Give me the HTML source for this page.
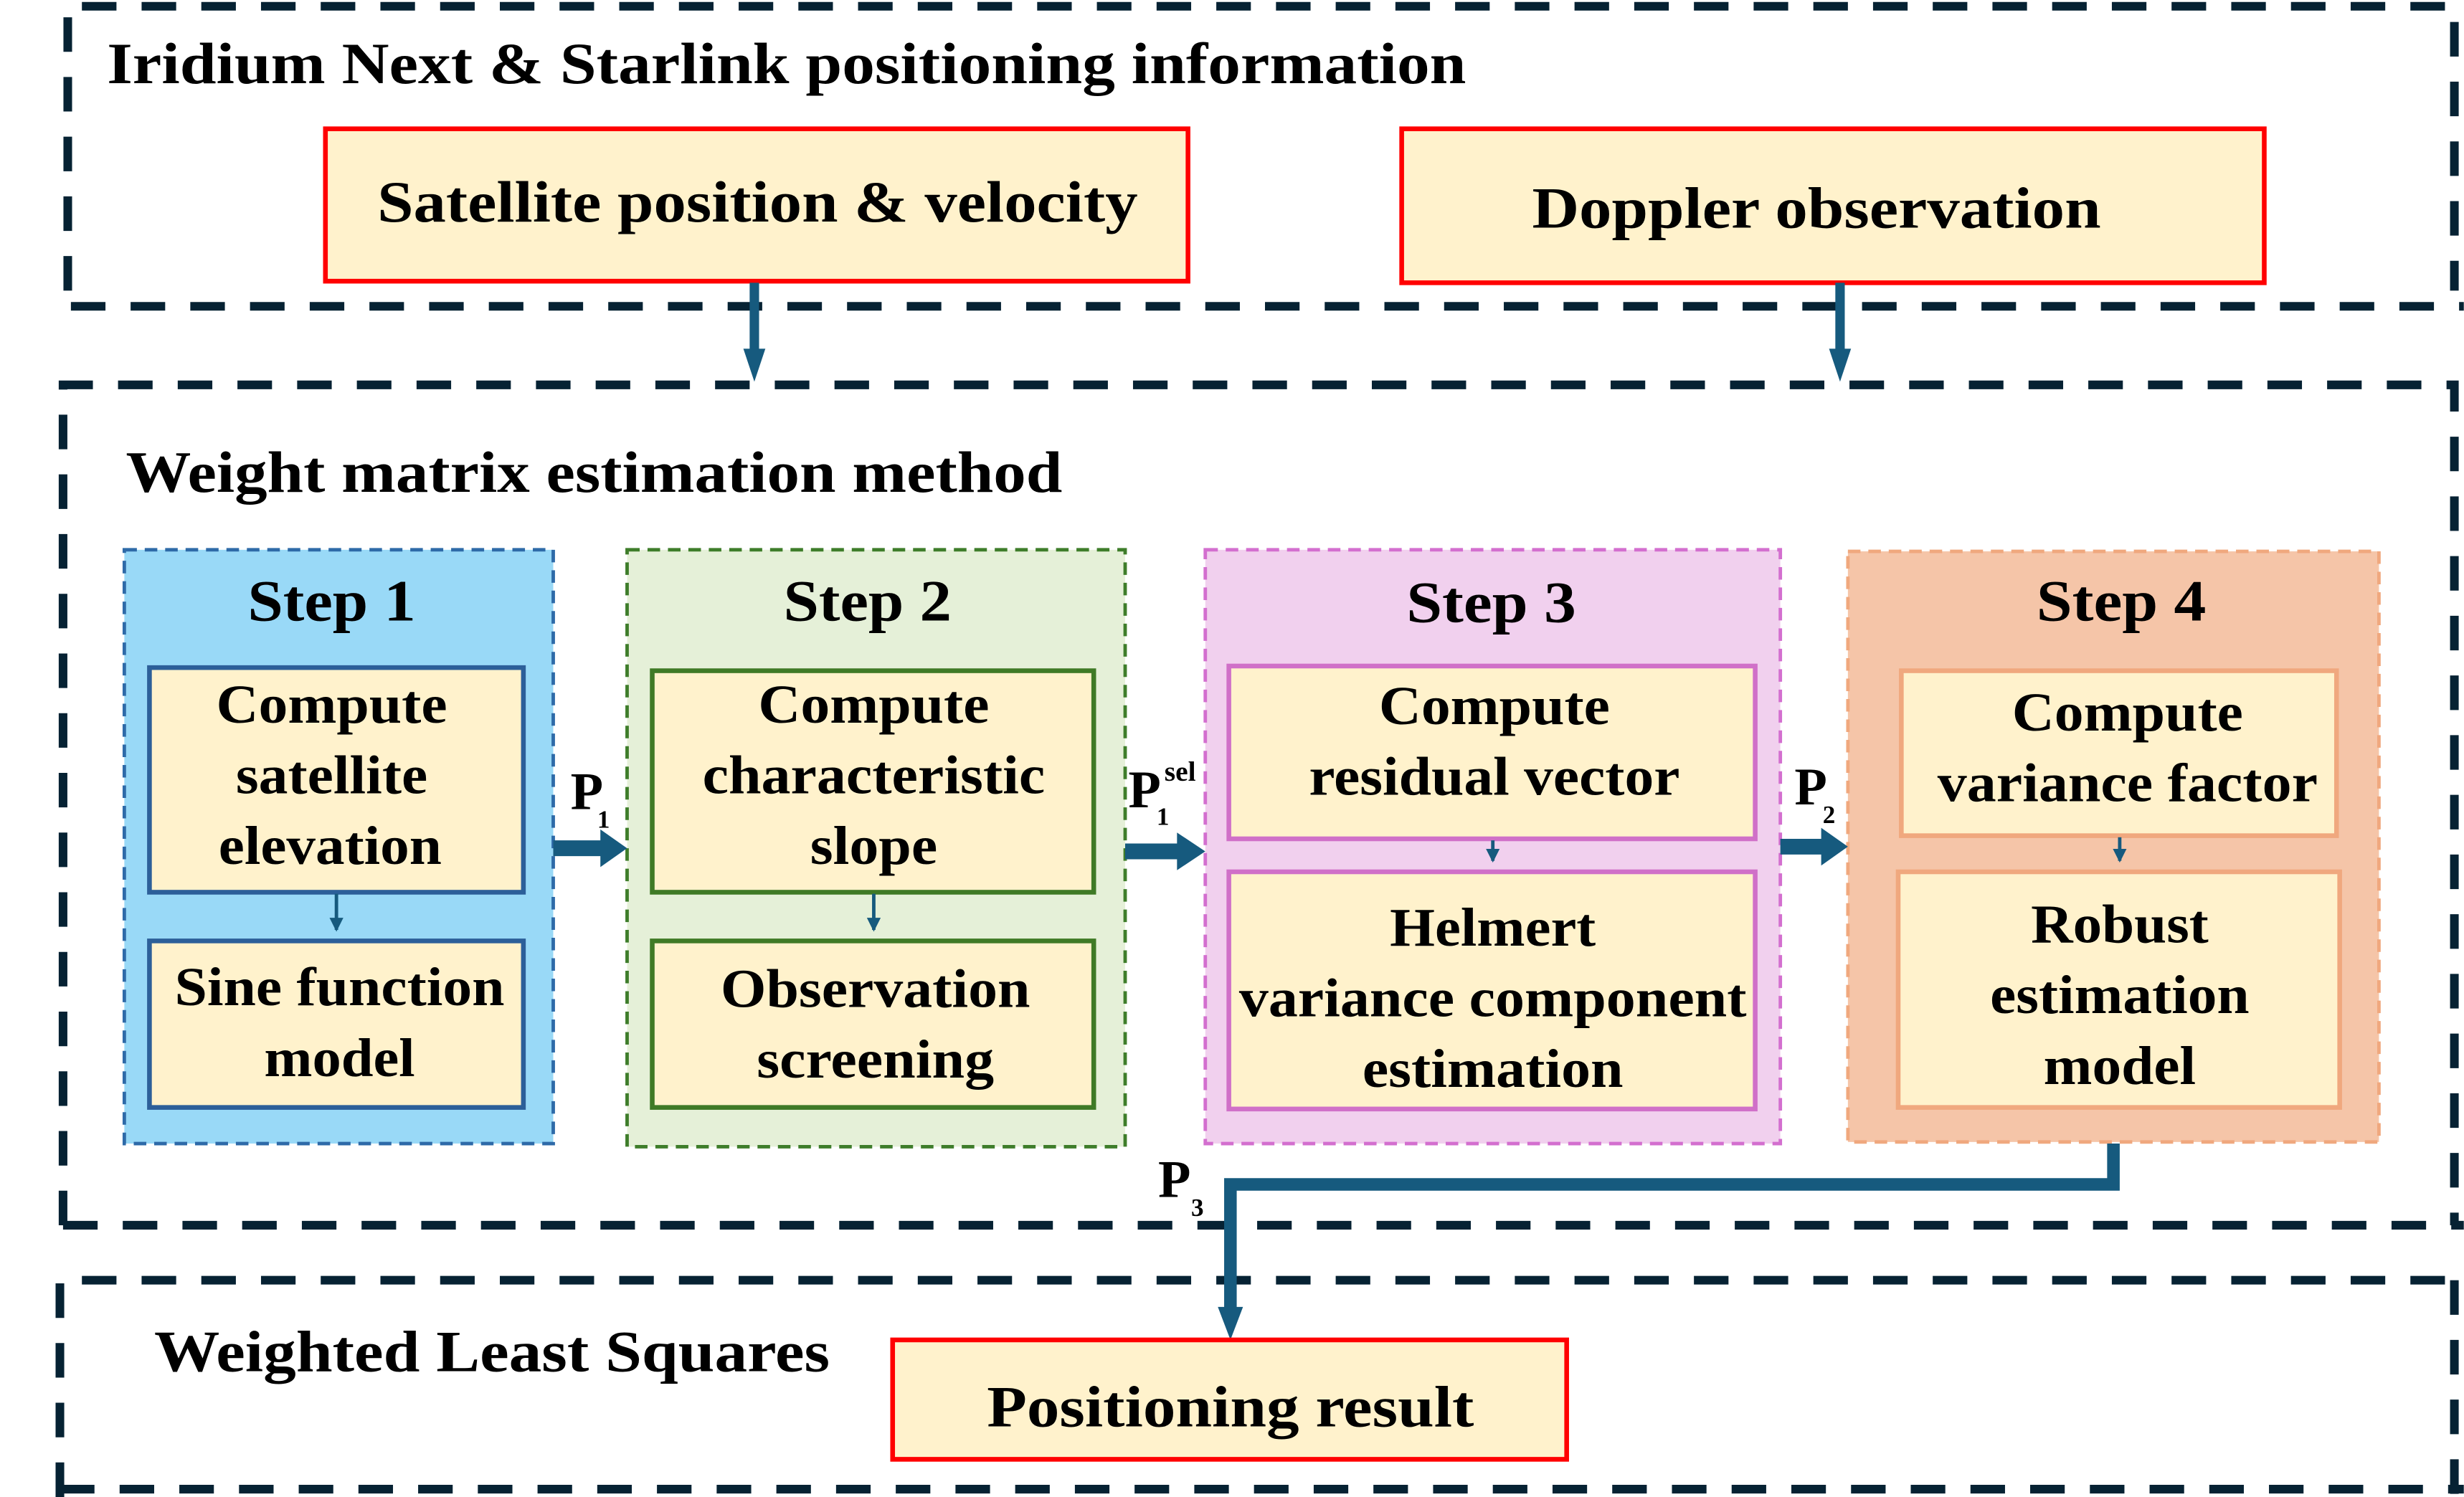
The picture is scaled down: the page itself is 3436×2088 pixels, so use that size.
<!DOCTYPE html>
<html><head><meta charset="utf-8">
<style>
html,body{margin:0;padding:0;background:#fff;}
svg{display:block;}
text{font-family:"Liberation Serif",serif;font-weight:bold;fill:#000;}
</style></head>
<body>
<svg xmlns="http://www.w3.org/2000/svg" width="3436" height="2088" viewBox="0 0 1568 953">
<defs>
<marker id="ah2" markerWidth="4" markerHeight="4" refX="3.5" refY="2" orient="auto" markerUnits="strokeWidth"><path d="M0,0 L4,2 L0,4 z" fill="#165a7e"/></marker>
</defs>
<g fill="none" stroke="#062233" stroke-width="5.5" stroke-dasharray="22 16">
<path d="M43,185 L43,4 L1562,4 L1562,185"/>
<line x1="45" y1="195" x2="1568" y2="195"/>
<path d="M40,780 L40,245 L1562,245 L1562,780"/>
<line x1="40" y1="780" x2="1568" y2="780"/>
<path d="M38,953 L38,815 L1568,815"/>
<line x1="38" y1="948" x2="1568" y2="948"/>
<line x1="1562" y1="815" x2="1562" y2="953"/>
</g>
<text x="68" y="53" font-size="37" textLength="865" lengthAdjust="spacingAndGlyphs">Iridium Next &amp; Starlink positioning information</text>
<rect x="207" y="82" width="549" height="97" fill="#fff2cc" stroke="#f00" stroke-width="3"/>
<text x="482" y="141" font-size="37" text-anchor="middle" textLength="484" lengthAdjust="spacingAndGlyphs">Satellite position &amp; velocity</text>
<rect x="892" y="82" width="549" height="98" fill="#fff2cc" stroke="#f00" stroke-width="3"/>
<text x="1156" y="145" font-size="37" text-anchor="middle" textLength="362" lengthAdjust="spacingAndGlyphs">Doppler observation</text>
<g stroke="#165a7e" stroke-width="6" fill="none">
<line x1="480" y1="180" x2="480" y2="224"/>
<line x1="1171" y1="180" x2="1171" y2="224"/>
</g>
<g fill="#165a7e">
<path d="M473,222 L487,222 L480,243 z"/>
<path d="M1164,222 L1178,222 L1171,243 z"/>
</g>
<text x="80" y="313" font-size="37" textLength="596" lengthAdjust="spacingAndGlyphs">Weight matrix estimation method</text>

<rect x="79" y="350" width="273" height="378" fill="#99d9f7" stroke="#2e6aa8" stroke-width="2.2" stroke-dasharray="8 5"/>
<text x="211" y="395" font-size="37" text-anchor="middle" textLength="107" lengthAdjust="spacingAndGlyphs">Step 1</text>
<rect x="95" y="425" width="238" height="143" fill="#fff2cc" stroke="#2c5f99" stroke-width="3"/>
<text x="211" y="460" font-size="35" text-anchor="middle" textLength="147" lengthAdjust="spacingAndGlyphs">Compute</text>
<text x="211" y="505" font-size="35" text-anchor="middle" textLength="122" lengthAdjust="spacingAndGlyphs">satellite</text>
<text x="210" y="550" font-size="35" text-anchor="middle" textLength="142" lengthAdjust="spacingAndGlyphs">elevation</text>
<rect x="95" y="599" width="238" height="106" fill="#fff2cc" stroke="#2c5f99" stroke-width="3"/>
<text x="216" y="640" font-size="35" text-anchor="middle" textLength="210" lengthAdjust="spacingAndGlyphs">Sine function</text>
<text x="216" y="685" font-size="35" text-anchor="middle" textLength="96" lengthAdjust="spacingAndGlyphs">model</text>

<rect x="399" y="350" width="317" height="380" fill="#e5f0d8" stroke="#3e7d2a" stroke-width="2.2" stroke-dasharray="8 5"/>
<text x="552" y="395" font-size="37" text-anchor="middle" textLength="107" lengthAdjust="spacingAndGlyphs">Step 2</text>
<rect x="415" y="427" width="281" height="141" fill="#fff2cc" stroke="#3f7a26" stroke-width="3"/>
<text x="556" y="460" font-size="35" text-anchor="middle" textLength="147" lengthAdjust="spacingAndGlyphs">Compute</text>
<text x="556" y="505" font-size="35" text-anchor="middle" textLength="218" lengthAdjust="spacingAndGlyphs">characteristic</text>
<text x="556" y="550" font-size="35" text-anchor="middle" textLength="81" lengthAdjust="spacingAndGlyphs">slope</text>
<rect x="415" y="599" width="281" height="106" fill="#fff2cc" stroke="#3f7a26" stroke-width="3"/>
<text x="557" y="641" font-size="35" text-anchor="middle" textLength="197" lengthAdjust="spacingAndGlyphs">Observation</text>
<text x="557" y="686" font-size="35" text-anchor="middle" textLength="151" lengthAdjust="spacingAndGlyphs">screening</text>

<rect x="767" y="350" width="366" height="378" fill="#f1d0ee" stroke="#d36fcf" stroke-width="2.2" stroke-dasharray="8 5"/>
<text x="949" y="396" font-size="37" text-anchor="middle" textLength="108" lengthAdjust="spacingAndGlyphs">Step 3</text>
<rect x="782" y="424" width="335" height="110" fill="#fff2cc" stroke="#d070c8" stroke-width="3"/>
<text x="951" y="461" font-size="35" text-anchor="middle" textLength="147" lengthAdjust="spacingAndGlyphs">Compute</text>
<text x="951" y="506" font-size="35" text-anchor="middle" textLength="236" lengthAdjust="spacingAndGlyphs">residual vector</text>
<rect x="782" y="555" width="335" height="151" fill="#fff2cc" stroke="#d070c8" stroke-width="3"/>
<text x="950" y="602" font-size="35" text-anchor="middle" textLength="131" lengthAdjust="spacingAndGlyphs">Helmert</text>
<text x="950" y="647" font-size="35" text-anchor="middle" textLength="323" lengthAdjust="spacingAndGlyphs">variance component</text>
<text x="950" y="692" font-size="35" text-anchor="middle" textLength="166" lengthAdjust="spacingAndGlyphs">estimation</text>

<rect x="1176" y="351" width="338" height="376" fill="#f5c5a8" stroke="#f0a87e" stroke-width="2.2" stroke-dasharray="8 5"/>
<text x="1350" y="395" font-size="37" text-anchor="middle" textLength="108" lengthAdjust="spacingAndGlyphs">Step 4</text>
<rect x="1210" y="427" width="277" height="105" fill="#fff2cc" stroke="#f0a87e" stroke-width="3"/>
<text x="1354" y="465" font-size="35" text-anchor="middle" textLength="147" lengthAdjust="spacingAndGlyphs">Compute</text>
<text x="1354" y="510" font-size="35" text-anchor="middle" textLength="242" lengthAdjust="spacingAndGlyphs">variance factor</text>
<rect x="1208" y="555" width="281" height="150" fill="#fff2cc" stroke="#f0a87e" stroke-width="3"/>
<text x="1349" y="600" font-size="35" text-anchor="middle" textLength="113" lengthAdjust="spacingAndGlyphs">Robust</text>
<text x="1349" y="645" font-size="35" text-anchor="middle" textLength="165" lengthAdjust="spacingAndGlyphs">estimation</text>
<text x="1349" y="690" font-size="35" text-anchor="middle" textLength="97" lengthAdjust="spacingAndGlyphs">model</text>

<g stroke="#165a7e" stroke-width="2.2" fill="none">
<line x1="214" y1="569" x2="214" y2="592" marker-end="url(#ah2)"/>
<line x1="556" y1="569" x2="556" y2="592" marker-end="url(#ah2)"/>
<line x1="950" y1="535" x2="950" y2="548" marker-end="url(#ah2)"/>
<line x1="1349" y1="533" x2="1349" y2="548" marker-end="url(#ah2)"/>
</g>
<g fill="#165a7e">
<path d="M352,535 L382,535 L382,528 L399,540 L382,552 L382,545 L352,545 z"/>
<path d="M716,537 L749,537 L749,530 L767,542 L749,554 L749,547 L716,547 z"/>
<path d="M1133,534 L1159,534 L1159,527 L1176,539 L1159,551 L1159,544 L1133,544 z"/>
</g>
<text x="363" y="515" font-size="34">P</text><text x="380" y="527" font-size="16" font-weight="normal">1</text>
<text x="718" y="514" font-size="34">P</text><text x="741" y="497" font-size="18" font-weight="normal">sel</text><text x="736" y="525" font-size="16" font-weight="normal">1</text>
<text x="1142" y="512" font-size="34">P</text><text x="1160" y="524" font-size="16" font-weight="normal">2</text>
<text x="737" y="762" font-size="34">P</text><text x="758" y="774" font-size="16" font-weight="normal">3</text>

<path d="M1345,728 L1345,754 L783,754 L783,838" fill="none" stroke="#165a7e" stroke-width="8"/>
<path d="M775,832 L791,832 L783,853 z" fill="#165a7e"/>

<text x="98" y="873" font-size="37" textLength="430" lengthAdjust="spacingAndGlyphs">Weighted Least Squares</text>
<rect x="568" y="853" width="429" height="76" fill="#fff2cc" stroke="#f00" stroke-width="3"/>
<text x="783" y="908" font-size="37" text-anchor="middle" textLength="310" lengthAdjust="spacingAndGlyphs">Positioning result</text>
</svg>
</body></html>
